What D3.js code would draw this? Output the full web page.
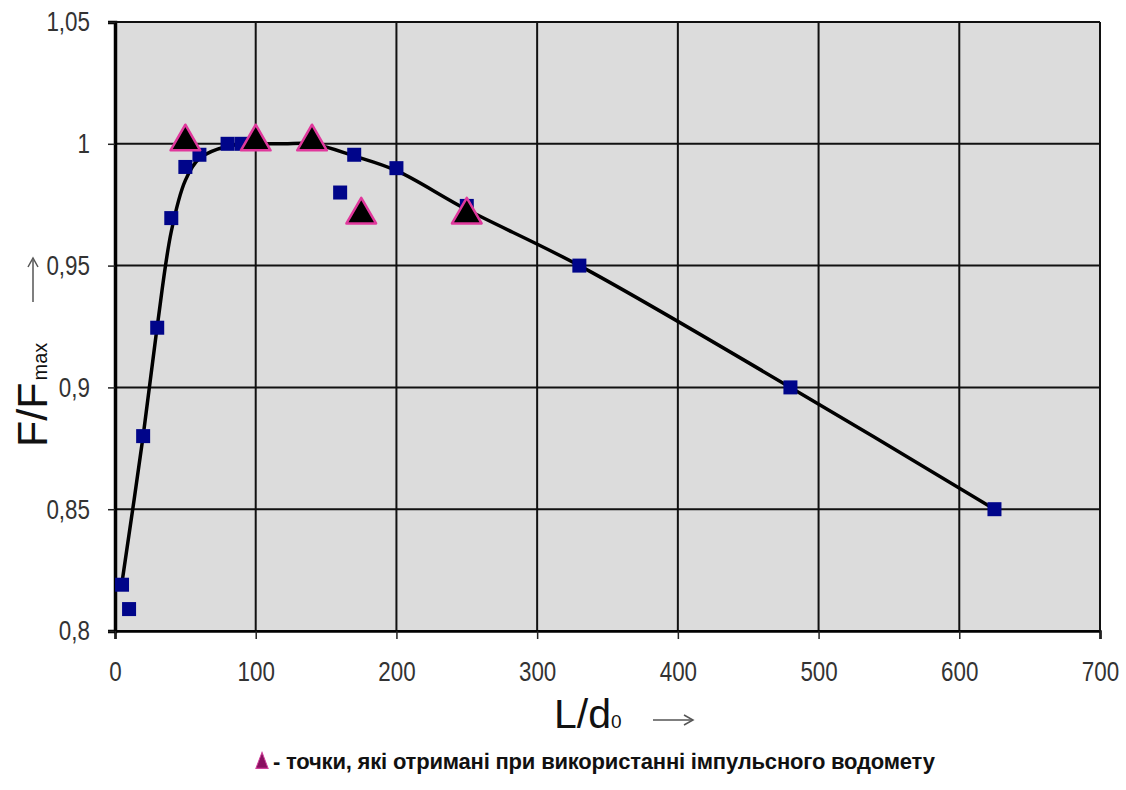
<!DOCTYPE html>
<html>
<head>
<meta charset="utf-8">
<script src="https://cdn.jsdelivr.net/npm/d3@7"></script>
<style>
  body { margin: 0; background: #fff; }
  svg { display: block; }
</style>
</head>
<body>
<svg id="chart"></svg>
<script>
// measured points (squares)
const squareX = [5, 10, 20, 30, 40, 50, 60, 80, 90, 100, 160, 170, 200, 250, 330, 480, 625]
const squareY = [0.819, 0.809, 0.88, 0.9245, 0.9695, 0.9905, 0.9955, 1.0, 1.0, 1.0, 0.98, 0.9955, 0.99, 0.9745, 0.95, 0.90, 0.85]

// points from the pulse water jet (triangles)
const triX = [50, 100, 140, 175, 250]
const triY = [1.0, 1.0, 1.0, 0.97, 0.97]

// smoothed trend line
const curveX = [5, 20, 30, 40, 50, 60, 80, 100, 120, 140, 170, 200, 250, 330, 480, 625]
const curveY = [0.82, 0.88, 0.925, 0.964, 0.985, 0.994, 0.999, 1.0, 1.0, 1.0, 0.995, 0.989, 0.973, 0.95, 0.90, 0.85]

const xTicks = [0, 100, 200, 300, 400, 500, 600, 700]
const yTicks = [0.8, 0.85, 0.9, 0.95, 1.0, 1.05]
const yTickLabels = ["0,8", "0,85", "0,9", "0,95", "1", "1,05"]

const legendText = "- точки, які отримані при використанні імпульсного водомету"

const width = 1126, height = 790
const plot = { left: 115, right: 1100, top: 22, bottom: 631 }
const narrow = 0.8  // tick labels in the picture are condensed

const svg = d3.select("#chart").attr("width", width).attr("height", height)

const x = d3.scaleLinear().domain([0, 700]).range([plot.left, plot.right])
const y = d3.scaleLinear().domain([0.8, 1.05]).range([plot.bottom, plot.top])

// plot background
svg.append("rect")
    .attr("x", plot.left).attr("y", plot.top)
    .attr("width", plot.right - plot.left).attr("height", plot.bottom - plot.top)
    .attr("fill", "#dcdcdc")

// grid
svg.append("g").selectAll("line")
    .data(yTicks)
    .enter().append("line")
    .attr("x1", plot.left).attr("x2", plot.right)
    .attr("y1", d => y(d)).attr("y2", d => y(d))
    .attr("stroke", "#111").attr("stroke-width", 2)

svg.append("g").selectAll("line")
    .data(xTicks)
    .enter().append("line")
    .attr("x1", d => x(d)).attr("x2", d => x(d))
    .attr("y1", plot.top).attr("y2", plot.bottom)
    .attr("stroke", "#111").attr("stroke-width", 2)

// axes
const tickFont = "'Liberation Sans', Arial, sans-serif"

const yAxis = svg.append("g")
    .attr("transform", `translate(${plot.left},0)`)
    .call(d3.axisLeft(y).tickValues(yTicks)
        .tickFormat((d, i) => yTickLabels[i])
        .tickSize(7).tickPadding(18))
yAxis.select(".domain").attr("stroke", "#000").attr("stroke-width", 3.5)
yAxis.selectAll(".tick line").attr("stroke", "#222").attr("stroke-width", 1.5)
yAxis.selectAll(".tick text")
    .attr("font-family", tickFont).attr("font-size", 28).attr("fill", "#333")
    .attr("x", -25 / narrow)
    .attr("transform", `scale(${narrow},1)`)

const xAxis = svg.append("g")
    .attr("transform", `translate(0,${plot.bottom})`)
    .call(d3.axisBottom(x).tickValues(xTicks).tickSize(8).tickPadding(22))
xAxis.select(".domain").attr("stroke", "#000").attr("stroke-width", 2.5)
xAxis.selectAll(".tick line").attr("stroke", "#222").attr("stroke-width", 1.5)
xAxis.selectAll(".tick text")
    .attr("font-family", tickFont).attr("font-size", 28).attr("fill", "#333")
    .attr("transform", `scale(${narrow},1)`)

// frame top / right
svg.append("line")
    .attr("x1", plot.left).attr("x2", plot.right)
    .attr("y1", plot.top).attr("y2", plot.top)
    .attr("stroke", "#111").attr("stroke-width", 2)
svg.append("line")
    .attr("x1", plot.right).attr("x2", plot.right)
    .attr("y1", plot.top).attr("y2", plot.bottom)
    .attr("stroke", "#111").attr("stroke-width", 2)

// trend line
const curvePts = curveX.map((d, i) => [d, curveY[i]])
svg.append("path")
    .datum(curvePts)
    .attr("fill", "none")
    .attr("stroke", "#000")
    .attr("stroke-width", 3.5)
    .attr("d", d3.line().x(d => x(d[0])).y(d => y(d[1])).curve(d3.curveCatmullRom.alpha(0.5)))

// squares
const sq = 14
svg.append("g").selectAll("rect")
    .data(squareX.map((d, i) => [d, squareY[i]]))
    .enter().append("rect")
    .attr("x", d => x(d[0]) - sq / 2)
    .attr("y", d => y(d[1]) - sq / 2)
    .attr("width", sq).attr("height", sq)
    .attr("fill", "#00058a")

// triangles
const tri = d3.symbol().type(d3.symbolTriangle).size(380)
svg.append("g").selectAll("path")
    .data(triX.map((d, i) => [d, triY[i]]))
    .enter().append("path")
    .attr("transform", d => `translate(${x(d[0])},${y(d[1]) - 2})`)
    .attr("d", tri)
    .attr("fill", "#000")
    .attr("stroke", "#e0389c")
    .attr("stroke-width", 2.5)
    .attr("stroke-linejoin", "round")

// y title
const titleFont = "'Liberation Sans', Arial, sans-serif"
const yTitle = svg.append("text")
    .attr("transform", "translate(47,447) rotate(-90)")
    .attr("font-family", titleFont)
    .attr("font-size", 43)
    .attr("fill", "#111")
yTitle.append("tspan").text("F/F")
yTitle.append("tspan").attr("font-size", 20).attr("dx", 2).text("max")

// y arrow
svg.append("line")
    .attr("x1", 33).attr("x2", 33).attr("y1", 302).attr("y2", 260)
    .attr("stroke", "#555").attr("stroke-width", 1.5)
svg.append("path")
    .attr("d", "M28,267 L33,258 L38,267")
    .attr("fill", "none").attr("stroke", "#555").attr("stroke-width", 1.5)

// x title
const xTitle = svg.append("text")
    .attr("x", 554).attr("y", 728)
    .attr("font-family", titleFont)
    .attr("font-size", 41)
    .attr("fill", "#111")
xTitle.append("tspan").text("L/d")
xTitle.append("tspan").attr("font-size", 19).text("0")

svg.append("line")
    .attr("x1", 653).attr("x2", 692).attr("y1", 720).attr("y2", 720)
    .attr("stroke", "#555").attr("stroke-width", 1.5)
svg.append("path")
    .attr("d", "M684,715 L693,720 L684,725")
    .attr("fill", "none").attr("stroke", "#555").attr("stroke-width", 1.5)

// legend
svg.append("path")
    .attr("transform", "translate(262,763) scale(0.85,1.3)")
    .attr("d", d3.symbol().type(d3.symbolTriangle).size(90))
    .attr("fill", "#8a1060")
    .attr("stroke", "#d0409a")
    .attr("stroke-width", 1)

svg.append("text")
    .attr("x", 273).attr("y", 769)
    .attr("font-family", "'Liberation Sans', Arial, sans-serif")
    .attr("font-weight", "bold")
    .attr("font-size", 22)
    .attr("fill", "#111")
    .attr("textLength", 662)
    .attr("lengthAdjust", "spacing")
    .text(legendText)
</script>
</body>
</html>
